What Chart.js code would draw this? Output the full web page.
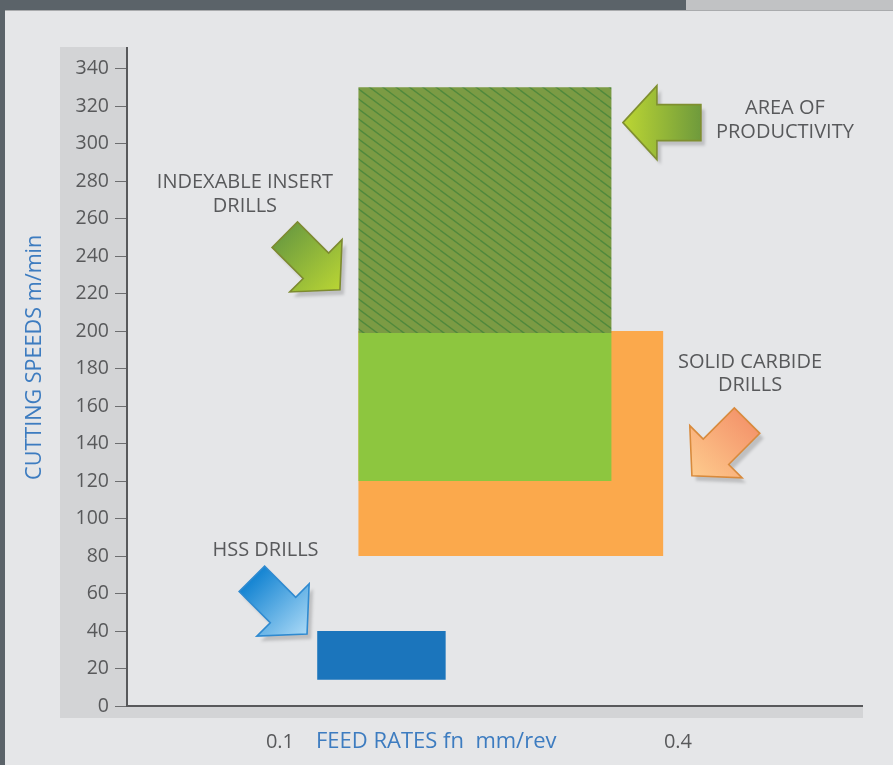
<!DOCTYPE html>
<html><head><meta charset="utf-8">
<script src="https://cdn.jsdelivr.net/npm/chart.js@4"></script>
<style>
html,body{margin:0;padding:0;}
body{width:893px;height:765px;position:relative;overflow:hidden;background:#e5e6e8;}
#topDark{position:absolute;left:0;top:0;width:686px;height:10px;background:#5b6369;}
#topLight{position:absolute;left:686px;top:0;width:207px;height:10px;background:#c1c2c4;}
#topLine{position:absolute;left:0;top:10px;width:893px;height:1px;background:#a9abad;}
#leftBar{position:absolute;left:0;top:0;width:5px;height:765px;background:#5b6369;}
canvas{position:absolute;left:0;top:0;}
</style></head>
<body>
<div id="topDark"></div><div id="topLight"></div><div id="topLine"></div><div id="leftBar"></div>
<canvas id="c" width="893" height="765"></canvas>
<script>
// ---- data ----
const regions = ['HSS drills', 'Area of productivity', 'Indexable insert / solid carbide overlap', 'Solid carbide drills'];
const feedFrom = [0.128, 0.159, 0.159, 0.159];
const feedTo = [0.225, 0.350, 0.350, 0.389];
const speedFrom = [14, 199, 120, 80];
const speedTo = [40, 330, 199, 200];

const yTicks = [0, 20, 40, 60, 80, 100, 120, 140, 160, 180, 200, 220, 240, 260, 280, 300, 320, 340];
const xTickValues = [0.1, 0.4];
const xTickLabels = ['0.1', '0.4'];
const xTitle = 'FEED RATES fn  mm/rev';
const yTitle = 'CUTTING SPEEDS m/min';

// annotations (anchored in data coordinates)
const noteLines = [['AREA OF', 'PRODUCTIVITY'], ['INDEXABLE INSERT', 'DRILLS'], ['SOLID CARBIDE', 'DRILLS'], ['HSS DRILLS']];
const noteX = [0.4806, 0.0736, 0.4543, 0.0891];
const noteY = [318.7, 279.2, 183.6, 83.3];
const arrowTipX = [0.3585, 0.1452, 0.4105, 0.1204];
const arrowTipY = [311.2, 222.0, 122.8, 38.4];
const arrowAngle = [180, 45, 135, 45];

// ---- styles ----
const arrowStyles = [
  {tail: '#6f9a3c', tip: '#bcd633', line: '#7f8f2f'},
  {tail: '#6f9e3f', tip: '#b9d534', line: '#7d8a30'},
  {tail: '#f4966c', tip: '#fecb8d', line: '#d88a3c'},
  {tail: '#1484d2', tip: '#aad9f6', line: '#2f8ad0'}
];
const textColor = '#58595b';
const blue = '#3d7cc0';
const FONT = '"Open Sans", "Noto Sans", sans-serif';

function makeHatch() {
  const c = document.createElement('canvas');
  c.width = 40; c.height = 30;
  const g = c.getContext('2d');
  g.fillStyle = '#7b9b44';
  g.fillRect(0, 0, 40, 30);
  g.strokeStyle = '#50893c';
  g.lineWidth = 1.4;
  for (let k = -4; k <= 4; k++) {
    g.beginPath(); g.moveTo(0, 10 * k); g.lineTo(40, 30 + 10 * k); g.stroke();
  }
  return g.createPattern(c, 'repeat');
}
const fills = ['#1b75bc', makeHatch(), '#8dc63f', '#fba94c'];

const datasets = [];
regions.forEach((name, i) => {
  datasets.push({
    label: name, data: [{x: feedFrom[i], y: speedTo[i]}, {x: feedTo[i], y: speedTo[i]}],
    fill: '+1', backgroundColor: fills[i], borderColor: 'rgba(0,0,0,0)', borderWidth: 0,
    pointRadius: 0, pointHoverRadius: 0, tension: 0
  });
  datasets.push({
    label: name + ' (low)', data: [{x: feedFrom[i], y: speedFrom[i]}, {x: feedTo[i], y: speedFrom[i]}],
    fill: false, borderColor: 'rgba(0,0,0,0)', borderWidth: 0, pointRadius: 0, pointHoverRadius: 0
  });
});

function drawArrow(ctx, tx, ty, angDeg, st) {
  const hl = 34, hw = 37, sw = 18, sl = 44;
  const a = angDeg * Math.PI / 180, ca = Math.cos(a), sa = Math.sin(a);
  const local = [[0, 0], [-hl, -hw], [-hl, -sw], [-hl - sl, -sw], [-hl - sl, sw], [-hl, sw], [-hl, hw]];
  const pts = local.map(([px, py]) => [tx + px * ca - py * sa, ty + px * sa + py * ca]);
  const tailX = tx - (hl + sl) * ca, tailY = ty - (hl + sl) * sa;
  const grad = ctx.createLinearGradient(tailX, tailY, tx, ty);
  grad.addColorStop(0, st.tail);
  grad.addColorStop(1, st.tip);
  ctx.save();
  ctx.beginPath();
  pts.forEach(([x, y], i) => i ? ctx.lineTo(x, y) : ctx.moveTo(x, y));
  ctx.closePath();
  ctx.shadowColor = 'rgba(0,0,0,0.17)';
  ctx.shadowBlur = 3;
  ctx.shadowOffsetX = 4;
  ctx.shadowOffsetY = 5;
  ctx.fillStyle = grad;
  ctx.fill();
  ctx.shadowColor = 'rgba(0,0,0,0)';
  ctx.lineWidth = 1.6;
  ctx.lineJoin = 'miter';
  ctx.strokeStyle = st.line;
  ctx.stroke();
  ctx.restore();
}

const decor = {
  id: 'decor',
  beforeDraw(chart) {
    const {ctx, chartArea: ca} = chart;
    ctx.save();
    ctx.fillStyle = '#d3d4d6';
    ctx.fillRect(ca.left - 67, ca.top - 1, 67, ca.bottom + 12 - (ca.top - 1));
    ctx.fillRect(ca.left - 67, ca.bottom, ca.right - ca.left + 68, 12);
    ctx.restore();
  },
  afterDraw(chart) {
    const {ctx, chartArea: ca, scales: {x, y}} = chart;
    ctx.save();
    // axis titles
    ctx.fillStyle = blue;
    ctx.font = '22px ' + FONT;
    ctx.textBaseline = 'middle';
    ctx.textAlign = 'left';
    ctx.fillText(xTitle, x.getPixelForValue(xTickValues[0]) + 36, ca.bottom + 36);
    ctx.save();
    ctx.translate(35, y.getPixelForValue(186));
    ctx.rotate(-Math.PI / 2);
    ctx.textAlign = 'center';
    ctx.font = '21.6px ' + FONT;
    ctx.fillText(yTitle, 0, 0);
    ctx.restore();
    // arrows
    for (let i = 0; i < arrowTipX.length; i++) {
      drawArrow(ctx, x.getPixelForValue(arrowTipX[i]), y.getPixelForValue(arrowTipY[i]), arrowAngle[i], arrowStyles[i]);
    }
    // notes
    ctx.fillStyle = textColor;
    ctx.font = '20px ' + FONT;
    ctx.textAlign = 'center';
    ctx.textBaseline = 'middle';
    noteLines.forEach((lines, i) => {
      const px = x.getPixelForValue(noteX[i]), py = y.getPixelForValue(noteY[i]);
      lines.forEach((t, j) => ctx.fillText(t, px, py + j * 23.5));
    });
    ctx.restore();
  }
};

new Chart(document.getElementById('c'), {
  type: 'line',
  data: {datasets},
  options: {
    responsive: false,
    animation: false,
    layout: {padding: {left: 20, top: 48, right: 31, bottom: 0}},
    plugins: {legend: {display: false}, tooltip: {enabled: false}, filler: {propagate: false}},
    scales: {
      x: {
        type: 'linear', min: -0.0153, max: 0.5387,
        afterBuildTicks: s => { s.ticks = xTickValues.map(v => ({value: v})); },
        afterFit: s => { s.height = 59; },
        grid: {display: false, drawTicks: false},
        border: {display: true, color: '#58595b', width: 2},
        ticks: {
          padding: 24, color: textColor, font: {family: FONT, size: 20},
          callback: (v, i) => xTickLabels[i], maxRotation: 0, autoSkip: false
        }
      },
      y: {
        type: 'linear', min: 0, max: 351,
        afterBuildTicks: s => { s.ticks = yTicks.map(v => ({value: v})); },
        afterFit: s => { s.width = 107; },
        grid: {display: true, drawOnChartArea: false, drawTicks: true, tickLength: 12, color: '#6d6e70', lineWidth: 1},
        border: {display: true, color: '#58595b', width: 2},
        ticks: {padding: 6, color: textColor, font: {family: FONT, size: 19.5}, autoSkip: false}
      }
    }
  },
  plugins: [decor]
});
</script>
</body></html>
